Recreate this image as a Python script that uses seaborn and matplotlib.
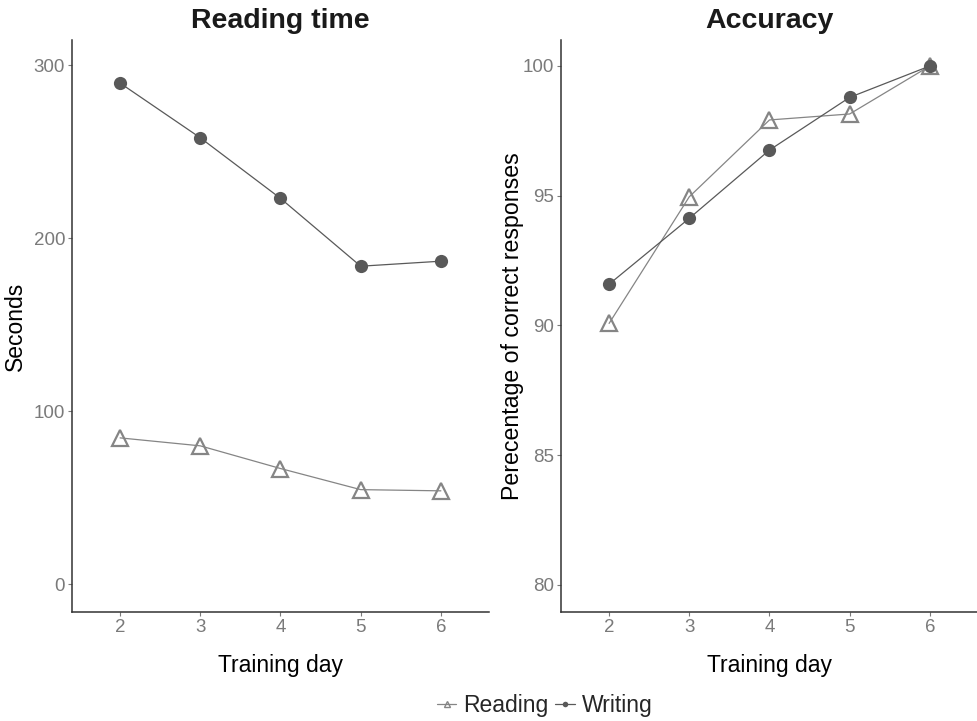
# Reading time / accuracy over training days, two panels
import matplotlib
matplotlib.use("Agg")
import matplotlib.pyplot as plt
from matplotlib.lines import Line2D
import pandas as pd
import seaborn as sns

# Data
days = [2, 3, 4, 5, 6]
reading_time = [84.6, 80.0, 66.9, 54.7, 54.0]
writing_time = [289.6, 258.0, 223.0, 183.8, 186.7]
reading_acc = [90.08, 94.96, 97.92, 98.15, 100.0]
writing_acc = [91.59, 94.13, 96.76, 98.79, 100.0]
groups = ["Reading", "Writing"]

time_df = pd.DataFrame({
    "day": days * 2,
    "value": reading_time + writing_time,
    "group": ["Reading"] * 5 + ["Writing"] * 5,
})
acc_df = pd.DataFrame({
    "day": days * 2,
    "value": reading_acc + writing_acc,
    "group": ["Reading"] * 5 + ["Writing"] * 5,
})

sns.set_theme(style="ticks")
plt.rcParams["font.family"] = ["Liberation Sans", "DejaVu Sans"]

colors = {"Reading": "#858585", "Writing": "#595959"}
marker_kw = {
    "Reading": dict(marker="^", markersize=11, markerfacecolor="none",
                    markeredgewidth=1.6, markeredgecolor="#858585"),
    "Writing": dict(marker="o", markersize=9.5, markeredgewidth=0,
                    markerfacecolor="#595959"),
}

fig = plt.figure(figsize=(9.78, 7.21), dpi=100)
ax1 = fig.add_axes([0.0736, 0.1512, 0.4264, 0.7933])
ax2 = fig.add_axes([0.5736, 0.1512, 0.4264, 0.7933])

for ax, df in [(ax1, time_df), (ax2, acc_df)]:
    for g in groups:
        sns.lineplot(data=df[df["group"] == g], x="day", y="value", ax=ax,
                     color=colors[g], linewidth=0.9, legend=False,
                     **marker_kw[g])

ax1.set_xlim(1.4, 6.6)
ax1.set_ylim(-16, 314.5)
ax1.set_yticks([0, 100, 200, 300])
ax2.set_xlim(1.4, 6.6)
ax2.set_ylim(78.96, 101.0)
ax2.set_yticks([80, 85, 90, 95, 100])

for ax in (ax1, ax2):
    ax.set_xticks(days)
    sns.despine(ax=ax)
    for s in ("left", "bottom"):
        ax.spines[s].set_color("#333333")
        ax.spines[s].set_linewidth(1.1)
    ax.tick_params(axis="both", colors="#7a7a7a", labelsize=13.5, length=3,
                   width=0.8, pad=2)
    ax.set_xlabel("Training day", fontsize=16.5, color="black", labelpad=13)

ax1.set_title("Reading time", fontsize=20.5, fontweight="bold", pad=9,
              color="#1a1a1a")
ax2.set_title("Accuracy", fontsize=20.5, fontweight="bold", pad=9,
              color="#1a1a1a")
ax1.set_ylabel("Seconds", fontsize=16.5, color="black")
ax2.set_ylabel("Perecentage of correct responses", fontsize=16.7,
               color="black")
ax1.yaxis.set_label_coords(-0.108, 0.5)
ax2.yaxis.set_label_coords(-0.088, 0.5)

handles = [
    Line2D([], [], color=colors["Reading"], linewidth=0.9, marker="^",
           markersize=5, markerfacecolor="none", markeredgecolor=colors["Reading"]),
    Line2D([], [], color=colors["Writing"], linewidth=0.9, marker="o",
           markersize=4, markeredgewidth=0),
]
fig.legend(handles, groups, loc="center", bbox_to_anchor=(0.557, 0.022),
           ncol=2, frameon=False, fontsize=16.5, handlelength=0.85,
           handletextpad=0.3, columnspacing=0.3)

fig.savefig("out.png", dpi=100)
